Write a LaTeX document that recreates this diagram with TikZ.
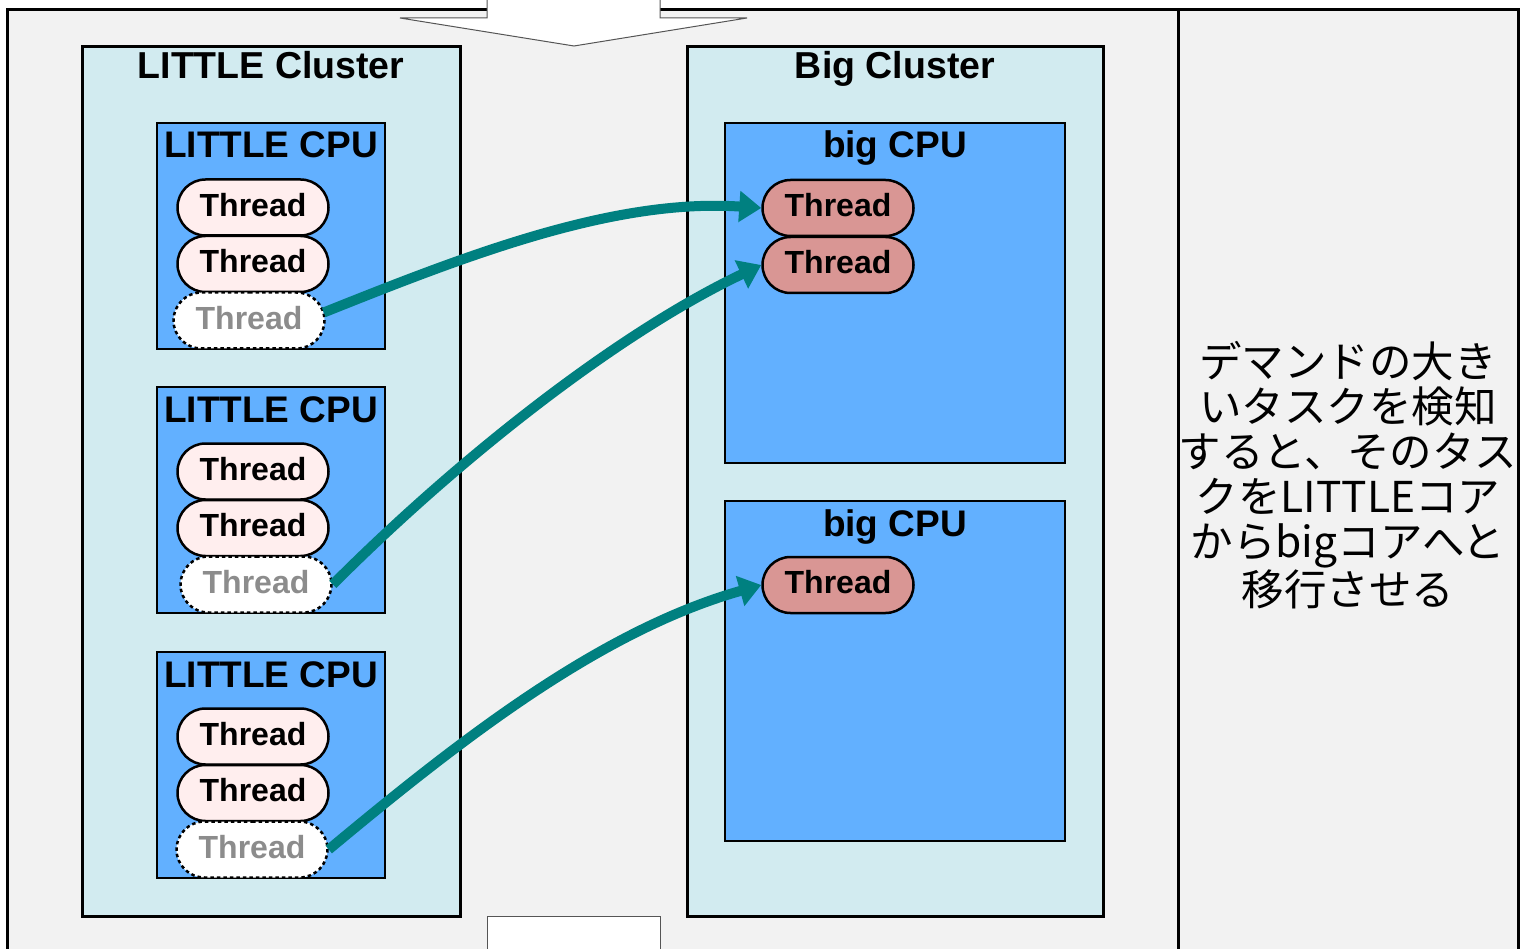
\documentclass[tikz,border=0pt]{standalone}
\usepackage{fontspec}
\setmainfont{Liberation Sans}
\newfontfamily\jpfont{Noto Sans CJK JP}
\usetikzlibrary{arrows.meta,shapes.misc}
\definecolor{bgc}{HTML}{F2F2F2}
\definecolor{clc}{HTML}{D2EBF0}
\definecolor{cpuc}{HTML}{62B0FF}
\definecolor{lthr}{HTML}{FFEEEE}
\definecolor{bthr}{HTML}{D99694}
\definecolor{ghostc}{HTML}{8C8C8C}
\definecolor{migc}{HTML}{008080}
\definecolor{edgec}{HTML}{555555}
\begin{document}
\begin{tikzpicture}[x=1pt,y=-1pt,
  clusterbox/.style={draw=black, line width=3pt, fill=clc, inner sep=0pt},
  cpubox/.style={draw=black, line width=2.5pt, fill=cpuc, inner sep=0pt},
  boxtitle/.style={font=\bfseries\fontsize{37.5}{40}\selectfont, anchor=base, inner sep=0pt},
  cputitle/.style={font=\bfseries\fontsize{37}{40}\selectfont, anchor=base, inner sep=0pt},
  lthread/.style={rounded rectangle, draw=black, line width=2.5pt, fill=lthr,
    minimum width=151pt, minimum height=56pt, inner sep=0pt, text depth=6pt,
    font=\bfseries\fontsize{32}{34}\selectfont},
  ghost/.style={lthread, fill=white, dash pattern=on 3.5pt off 3pt, text=ghostc},
  bthread/.style={lthread, fill=bthr},
  mig/.style={draw=migc, line width=10pt, -{Triangle[length=22pt,width=30pt]}},
  blockarrow/.style={fill=white, draw=edgec, line width=1pt}
]
\useasboundingbox (0,0) rectangle (1528,949);
\clip (0,0) rectangle (1528,949);
% outer frame
\fill[white] (0,0) rectangle (1528,949);
\fill[bgc] (7,9.5) rectangle (1518,960);
\draw[line width=3pt] (7,960) -- (7,9.5) -- (1518,9.5) -- (1518,960);
\draw[line width=3pt] (1178,9.5) -- (1178,960);
% block arrows
\draw[blockarrow] (487,-5) -- (487,18) -- (400,18) -- (574,46) -- (747,18) -- (660,18) -- (660,-5) -- cycle;
\draw[blockarrow] (487,916) rectangle (660,965);
% clusters
\node[clusterbox, minimum width=378pt, minimum height=869pt] (lc) at (271,481.5) {};
\node[boxtitle] (lct) at (271,79) {LITTLE Cluster};
\node[clusterbox, minimum width=416pt, minimum height=869pt] (bc) at (895,481.5) {};
\node[boxtitle] (bct) at (895,79) {Big Cluster};
% LITTLE CPUs
\node[cpubox, minimum width=228pt, minimum height=226pt] (l1) at (271,236) {};
\node[cputitle] (l1t) at (271,158) {LITTLE CPU};
\node[lthread] (t1a) at (253,207.5) {Thread};
\node[lthread] (t1b) at (253,264) {Thread};
\node[ghost] (t1c) at (249,320.5) {Thread};
\node[cpubox, minimum width=228pt, minimum height=226pt] (l2) at (271,500) {};
\node[cputitle] (l2t) at (271,422) {LITTLE CPU};
\node[lthread] (t2a) at (253,471.5) {Thread};
\node[lthread] (t2b) at (253,528) {Thread};
\node[ghost] (t2c) at (256,584.5) {Thread};
\node[cpubox, minimum width=228pt, minimum height=226pt] (l3) at (271,765) {};
\node[cputitle] (l3t) at (271,687) {LITTLE CPU};
\node[lthread] (t3a) at (253,736.5) {Thread};
\node[lthread] (t3b) at (253,793) {Thread};
\node[ghost] (t3c) at (252,849.5) {Thread};
% big CPUs
\node[cpubox, minimum width=340pt, minimum height=340pt] (b1) at (895,293) {};
\node[cputitle] (b1t) at (895,158) {big CPU};
\node[bthread] (b1a) at (838,208) {Thread};
\node[bthread] (b1b) at (838,265) {Thread};
\node[cpubox, minimum width=340pt, minimum height=340pt] (b2) at (895,671) {};
\node[cputitle] (b2t) at (895,536) {big CPU};
\node[bthread] (b2a) at (838,585) {Thread};
% migrations
\draw[mig] ([xshift=-2pt,yshift=8pt]t1c.east) .. controls (465,256) and (613,198) .. (b1a.west);
\draw[mig] (t2c.east) .. controls (459,458) and (618,333) .. (b1b.west);
\draw[mig] (t3c.east) .. controls (459,741) and (599,631) .. (b2a.west);
% note
\node[font=\jpfont\fontsize{42.5}{45}\selectfont, align=center, inner sep=0pt] (note) at (1348,475)
  {デマンドの大き\\いタスクを検知\\すると、そのタス\\クをLITTLEコア\\からbigコアへと\\移行させる};
\end{tikzpicture}
\end{document}
